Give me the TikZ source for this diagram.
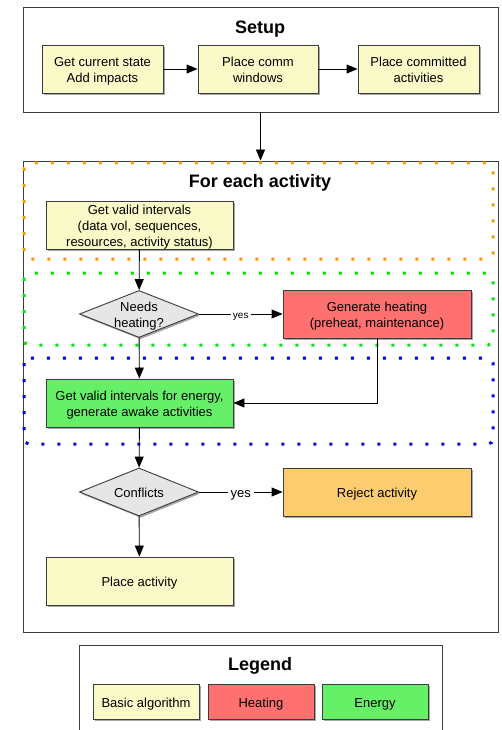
\documentclass[tikz,border=0pt]{standalone}
\usepackage{fontspec}
\setmainfont{Liberation Sans}
\usetikzlibrary{shapes.geometric,shadows,arrows.meta}
\definecolor{cyel}{RGB}{250,250,200}
\definecolor{cred}{RGB}{255,112,112}
\definecolor{cgrn}{RGB}{102,240,104}
\definecolor{corg}{RGB}{253,204,110}
\definecolor{cgry}{RGB}{230,230,230}
\definecolor{cline}{RGB}{60,60,60}
\definecolor{dorg}{RGB}{255,153,0}
\definecolor{dgrn}{RGB}{0,235,0}
\definecolor{dblu}{RGB}{0,0,235}
\newcommand{\bt}[1]{\raisebox{-2.5pt}[\height][\depth]{\begin{tabular}{@{}c@{}}#1\end{tabular}}}
\tikzset{
  every node/.style={font=\fontsize{13}{16}\selectfont, align=center},
  frame/.style={draw=cline, line width=0.9pt, fill=white, rectangle, inner sep=0pt},
  box/.style={draw=cline, line width=0.9pt, rectangle, inner sep=0pt, minimum height=48pt,
     drop shadow={shadow xshift=1.5pt, shadow yshift=-1.8pt, opacity=0.35, fill=black}},
  dia/.style={draw=cline, line width=0.9pt, diamond, fill=cgry, inner sep=0pt,
     minimum width=119pt, minimum height=47pt,
     drop shadow={shadow xshift=1.5pt, shadow yshift=-1.8pt, opacity=0.35, fill=black}},
  ttl/.style={font=\fontsize{18}{21}\selectfont\bfseries},
  arr/.style={draw=black, line width=0.9pt, -{Triangle[length=11pt,width=9pt]}},
  dotbox/.style={line width=3pt, dash pattern=on 3pt off 13pt, rounded corners=5pt},
}
\begin{document}
\begin{tikzpicture}[x=1pt,y=-1pt]
\useasboundingbox (0,0) rectangle (502,730);
\clip (0,0) rectangle (502,730);
% frames
\node[frame, minimum width=475pt, minimum height=105pt] (setup) at (260.5,59.5) {};
\node[ttl] (setupT) at (260,29) {Setup};
\node[frame, minimum width=475pt, minimum height=471pt] (foreach) at (260.5,396.5) {};
\node[ttl] (foreachT) at (260,183) {For each activity};
\node[frame, minimum width=363pt, minimum height=100pt] (legend) at (260.5,695) {};
\node[ttl] (legendT) at (260,666) {Legend};
% dotted regions
\draw[dotbox, draw=dorg] (24,163) rectangle (493,259);
\draw[dotbox, draw=dgrn] (24,273) rectangle (493,345);
\draw[dotbox, draw=dblu] (24,358) rectangle (493,444);
% setup boxes
\node[box, fill=cyel, minimum width=121pt] (a) at (102.5,69) {\bt{Get current state\\Add impacts}};
\node[box, fill=cyel, minimum width=120pt] (b) at (258,69) {\bt{Place comm\\windows}};
\node[box, fill=cyel, minimum width=121pt] (c) at (418.5,69) {\bt{Place committed\\activities}};
% loop
\node[box, fill=cyel, minimum width=187pt] (get) at (139.5,225) {\bt{Get valid intervals\\(data vol, sequences,\\resources, activity status)}};
\node[dia] (needs) at (139,314) {};
\node (needsT) at (139,314) {\bt{Needs\\heating?}};
\node[box, fill=cred, minimum width=188pt] (heat) at (377,314) {\bt{Generate heating\\(preheat, maintenance)}};
\node[box, fill=cgrn, minimum width=187pt] (energy) at (139.5,403) {\bt{Get valid intervals for energy,\\generate awake activities}};
\node[dia, minimum height=48pt] (conf) at (139,492) {};
\node (confT) at (139,492) {\bt{Conflicts}};
\node[box, fill=corg, minimum width=188pt] (reject) at (377,492) {\bt{Reject activity}};
\node[box, fill=cyel, minimum width=187pt] (place) at (139.5,581) {\bt{Place activity}};
% legend
\node[box, fill=cyel, minimum width=106pt, minimum height=35pt] (lb) at (146,701.5) {\bt{Basic algorithm}};
\node[box, fill=cred, minimum width=106pt, minimum height=35pt] (lh) at (261,701.5) {\bt{Heating}};
\node[box, fill=cgrn, minimum width=106pt, minimum height=35pt] (le) at (375,701.5) {\bt{Energy}};
% arrows
\draw[arr] (a) -- (b);
\draw[arr] (b) -- (c);
\draw[arr] (setup.south) -- (foreach.north);
\draw[arr] (get) -- (needs);
\draw[arr] (needs) -- node[fill=white, inner sep=2pt, font=\fontsize{10}{12}\selectfont] (yes1) {\bt{yes}} (heat);
\draw[arr] (needs) -- (energy);
\draw[arr] (heat.south) |- (energy.east);
\draw[arr] (energy) -- (conf);
\draw[arr] (conf) -- node[fill=white, inner sep=3pt] (yes2) {\bt{yes}} (reject);
\draw[arr] (conf) -- (place);
\end{tikzpicture}
\end{document}
